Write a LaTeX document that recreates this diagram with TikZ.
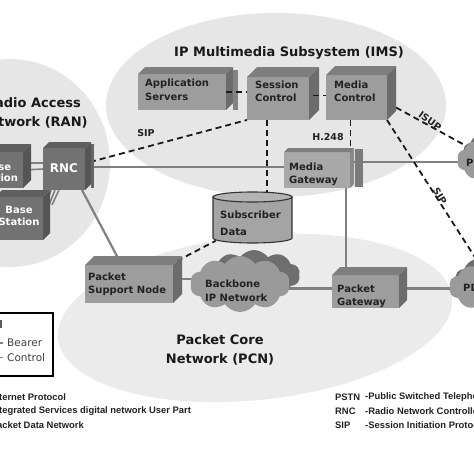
\documentclass[tikz,border=0pt]{standalone}
\usepackage{fontspec}
\newfontfamily\dv{DejaVu Sans}
\newfontfamily\lib{Liberation Sans}
\usetikzlibrary{calc,shapes.symbols,shapes.geometric}
\definecolor{ellA}{HTML}{E6E6E6}
\definecolor{ellB}{HTML}{EBEBEB}
\definecolor{bfront}{HTML}{9D9D9D}
\definecolor{btop}{HTML}{7E7E7E}
\definecolor{bside}{HTML}{6C6C6C}
\definecolor{dfront}{HTML}{727272}
\definecolor{dtop}{HTML}{5F5F5F}
\definecolor{dside}{HTML}{555555}
\definecolor{mgfront}{HTML}{A8A8A8}
\definecolor{linegray}{HTML}{808080}
\definecolor{cfront}{HTML}{9A9A9A}
\definecolor{cshadow}{HTML}{6E6E6E}
\definecolor{cylbody}{HTML}{A4A4A4}
\definecolor{cyltop}{HTML}{B4B4B4}
\definecolor{txtdark}{HTML}{222222}
\newcommand{\cubefaces}[4]{%
  \fill[#3] (#1.north west) -- ++(#2,-#2) -- ($(#1.north east)+(#2,-#2)$) -- (#1.north east) -- cycle;
  \fill[#4] (#1.north east) -- ++(#2,-#2) -- ($(#1.south east)+(#2,-#2)$) -- (#1.south east) -- cycle;
}
\begin{document}
\begin{tikzpicture}[x=1pt,y=-1pt,
  front/.style={inner sep=0pt, outer sep=0pt, fill=bfront},
  dark/.style={inner sep=0pt, outer sep=0pt, fill=dfront},
  bearer/.style={draw=linegray, line width=2.6pt},
  ctrl/.style={draw=black!90, line width=1.8pt, dash pattern=on 6pt off 4pt},
  boxtxt/.style={font={\dv\bfseries\fontsize{10}{13.5}\selectfont}, align=left, anchor=west, inner sep=0pt, text=txtdark},
  whitetxt/.style={font={\dv\bfseries\fontsize{10}{11.5}\selectfont}, align=center, inner sep=0pt, text=white},
  titletxt/.style={font={\dv\bfseries\fontsize{13}{19}\selectfont}, align=center, inner sep=0pt, text=black!90},
  lbl/.style={font={\dv\bfseries\fontsize{9.5}{11}\selectfont}, inner sep=0pt, text=txtdark},
  legtxt/.style={font={\lib\bfseries\fontsize{9.4}{11}\selectfont}, anchor=west, inner sep=0pt, text=txtdark},
  cloudsty/.style={cloud, cloud puffs=10, cloud puff arc=110, cloud ignores aspect, inner sep=0pt},
]
\useasboundingbox (0,0) rectangle (474,474);
\clip (0,0) rectangle (474,474);
\fill[white] (0,0) rectangle (474,474);
% background areas
\fill[ellA] (276,105) ellipse [x radius=170pt, y radius=92pt];
\fill[ellA] (10,163) ellipse [x radius=100pt, y radius=104pt];
\fill[ellB, rotate around={6:(255,318)}] (255,318) ellipse [x radius=198pt, y radius=82pt];

% boxes (front faces as nodes)
\node[front, minimum width=88pt, minimum height=36pt] (app) at (182,92) {};
\node[front, minimum width=62pt, minimum height=43pt] (sc) at (278,98.5) {};
\node[front, minimum width=61pt, minimum height=45pt] (mc) at (356.5,97.5) {};
\node[front, fill=mgfront, minimum width=66pt, minimum height=36pt] (mg) at (317,170) {};
\node[dark, minimum width=42pt, minimum height=42pt] (rnc) at (64,169) {};
\node[dark, minimum width=53pt, minimum height=36pt] (bsa) at (-3.5,170) {};
\node[dark, minimum width=48pt, minimum height=43pt] (bsb) at (19,218.5) {};
\node[front, minimum width=88pt, minimum height=38pt] (psn) at (129,284) {};
\node[front, minimum width=67pt, minimum height=33pt] (pgw) at (365.5,291.5) {};
\node[inner sep=0pt, minimum width=79pt, minimum height=51pt] (sd) at (252.5,219) {};
\node[inner sep=0pt, minimum width=70pt, minimum height=44pt] (pstnpos) at (492,160) {};
\node[inner sep=0pt, minimum width=90pt, minimum height=50pt] (pdnpos) at (494,287) {};
\node[inner sep=0pt, minimum width=100pt, minimum height=56pt] (bbpos) at (240,284) {};

% connectors (bearer)
\draw[bearer] ($(rnc.east)+(0,-2)$) -- ($(mg.west)+(0,-3)$);
\draw[bearer, line width=2.2pt] ($(rnc.south east)+(-3,0)$) -- ($(psn.north west)+(33,-7)$);
\draw[bearer, line width=1.6pt] ($(bsa.east)+(0,-7)$) -- ($(rnc.west)+(0,-6)$);
\draw[bearer, line width=1.6pt] ($(bsa.east)+(0,0)$) -- ($(rnc.west)+(0,0)$);
\draw[bearer, line width=1.6pt] ($(bsb.north east)+(3,8)$) -- ($(rnc.south west)+(8,0)$);
\draw[bearer, line width=1.6pt] ($(bsb.north east)+(6,8)$) -- ($(rnc.south west)+(12,0)$);
\draw[bearer, line width=1.6pt] ($(bsb.north east)+(9,8)$) -- ($(rnc.south west)+(16,0)$);
\draw[bearer] ($(mg.east)+(0,-8)$) coordinate (mgr) -- (mgr -| pstnpos.center);
\draw[bearer, line width=2.4pt] ($(mg.south east)+(-4,0)$) coordinate (mgb) -- (mgb |- pgw.north);
\draw[bearer] ($(pgw.west)+(0,-3)$) coordinate (pgl) -- (pgl -| bbpos.center);
\draw[bearer] ($(pgw.east)+(0,-3)$) coordinate (pgr) -- (pgr -| pdnpos.center);
\draw[bearer] ($(psn.east)+(0,-5)$) coordinate (psr) -- (psr -| bbpos.center);

% connectors (control)
\draw[ctrl] ($(rnc.north east)+(5,14)$) -- (sc.south west);
\draw[ctrl] ($(sc.south)+(-11,0)$) coordinate (scb) -- (scb |- sd.center);
\draw[ctrl] ($(mc.south)+(-6,0)$) coordinate (mcb) -- (mcb |- mg.center);
\draw[ctrl] ($(mc.east)+(9,10)$) -- (pstnpos.center);
\draw[ctrl] (mc.south east) -- (pdnpos.center);
\draw[ctrl] ($(psn.north east)+(4,-4)$) -- ($(sd.south west)+(3,-4)$);

% 3D faces
\cubefaces{app}{7}{btop}{bside}
\fill[bside!85] ($(app.north east)+(7,-4)$) rectangle ($(app.south east)+(12,0)$);
\cubefaces{sc}{10}{btop}{bside}
\cubefaces{mc}{9}{btop}{bside}
\cubefaces{mg}{4}{btop}{bside!80}
\fill[bside!90] ($(mg.north east)+(5,-3)$) rectangle ($(mg.south east)+(13,-1)$);
\cubefaces{rnc}{6}{dtop}{dside}
\fill[dside!90] ($(rnc.north east)+(6,-4)$) rectangle ($(rnc.south east)+(9,-2)$);
\cubefaces{bsa}{8}{dtop}{dside}
\cubefaces{bsb}{7}{dtop}{dside}
\cubefaces{psn}{9}{btop}{bside}
\cubefaces{pgw}{8}{btop}{bside}

\draw[ctrl] (app.east) -- (app.east -| sc.west);
\draw[ctrl] ($(sc.east)+(4,-3)$) -- ($(mc.west)+(0,-2)$);

% cylinder
\path[fill=cylbody, draw=black!80, line width=1.1pt] (213,197) -- (213,238) arc[start angle=180, end angle=360, x radius=39.5pt, y radius=5pt] -- (292,197) -- cycle;
\path[fill=cyltop, draw=black!80, line width=1.1pt] (252.5,197) ellipse [x radius=39.5pt, y radius=5pt];

% clouds
\node[cloudsty, fill=cshadow, minimum width=92pt, minimum height=50pt] (bbshadow) at (254,275) {};
\node[cloudsty, fill=cfront, minimum width=100pt, minimum height=56pt] (bb) at (240,284) {};
\node[cloudsty, fill=cshadow, minimum width=70pt, minimum height=44pt] (pstnshadow) at (498,153) {};
\node[cloudsty, fill=cfront, minimum width=70pt, minimum height=44pt] (pstn) at (492,160) {};
\node[cloudsty, fill=cshadow, minimum width=90pt, minimum height=50pt] (pdnshadow) at (500,280) {};
\node[cloudsty, fill=cfront, minimum width=90pt, minimum height=50pt] (pdn) at (494,287) {};

% texts
\node[titletxt] (imst) at (289,53) {IP Multimedia Subsystem (IMS)};
\node[titletxt] (rant) at (33,112.5) {Radio Access\\Network (RAN)};
\node[titletxt] (pcnt) at (220,350) {Packet Core\\Network (PCN)};
\node[boxtxt] (appt) at (145,90) {Application\\Servers};
\node[boxtxt] (sct) at (255,91.5) {Session\\Control};
\node[boxtxt] (mct) at (334,91.5) {Media\\Control};
\node[boxtxt] (mgt) at (289,174.5) {Media\\Gateway};
\node[boxtxt] (psnt) at (88,284) {Packet\\Support Node};
\node[boxtxt] (pgwt) at (337,296.5) {Packet\\Gateway};
\node[boxtxt] (bbt) at (205,291) {Backbone\\IP Network};
\node[boxtxt, font={\dv\bfseries\fontsize{10}{17}\selectfont}] (sdt) at (220,223.5) {Subscriber\\Data};
\node[boxtxt] (pstnt) at (466,163) {PSTN};
\node[boxtxt] (pdnt) at (463,288) {PDN};
\node[whitetxt, font={\dv\bfseries\fontsize{12}{13}\selectfont}] (rnct) at (64,168) {RNC};
\node[whitetxt] (bsat) at (-2.5,172.5) {Base\\Station};
\node[whitetxt] (bsbt) at (19,216) {Base\\Station};
\node[lbl] (sipa) at (146,133) {SIP};
\node[lbl] (h248) at (328,137) {H.248};
\node[lbl, rotate=-35] (isup) at (430,121) {ISUP};
\node[lbl, rotate=-58] (sipb) at (440,196) {SIP};

% legend box
\node[draw=black, line width=1.5pt, minimum width=70pt, minimum height=63pt, inner sep=0pt] (legbox) at (18,344.5) {};
\fill[black!65] (-4,320) rectangle (2,328);
\draw[linegray, line width=1.5pt] (-10,343) -- (3,343);
\draw[linegray, line width=1.5pt] (-2,357.5) -- (3,357.5);
\node[font={\dv\fontsize{10.5}{12}\selectfont}, anchor=west, inner sep=0pt, text=black!75] (bearert) at (7,343) {Bearer};
\node[font={\dv\fontsize{10.5}{12}\selectfont}, anchor=west, inner sep=0pt, text=black!75] (controlt) at (7,357.5) {Control};

% abbreviations
\node[legtxt] (ipa) at (-42.5,397) {IP};
\node[legtxt] (ipb) at (-12.5,397) {-Internet Protocol};
\node[legtxt] (isa) at (-42.5,411) {ISUP};
\node[legtxt] (isb) at (-12.5,411) {-Integrated Services digital network User Part};
\node[legtxt] (pda) at (-42.5,425) {PDN};
\node[legtxt] (pdb) at (-12.5,425) {-Packet Data Network};
\node[legtxt] (psa) at (335,397) {PSTN};
\node[legtxt] (psb) at (365,397) {-Public Switched Telephone Network};
\node[legtxt] (rna) at (335,411) {RNC};
\node[legtxt] (rnb) at (365,411) {-Radio Network Controller};
\node[legtxt] (sia) at (335,425) {SIP};
\node[legtxt] (sib) at (365,425) {-Session Initiation Protocol};
\end{tikzpicture}
\end{document}
